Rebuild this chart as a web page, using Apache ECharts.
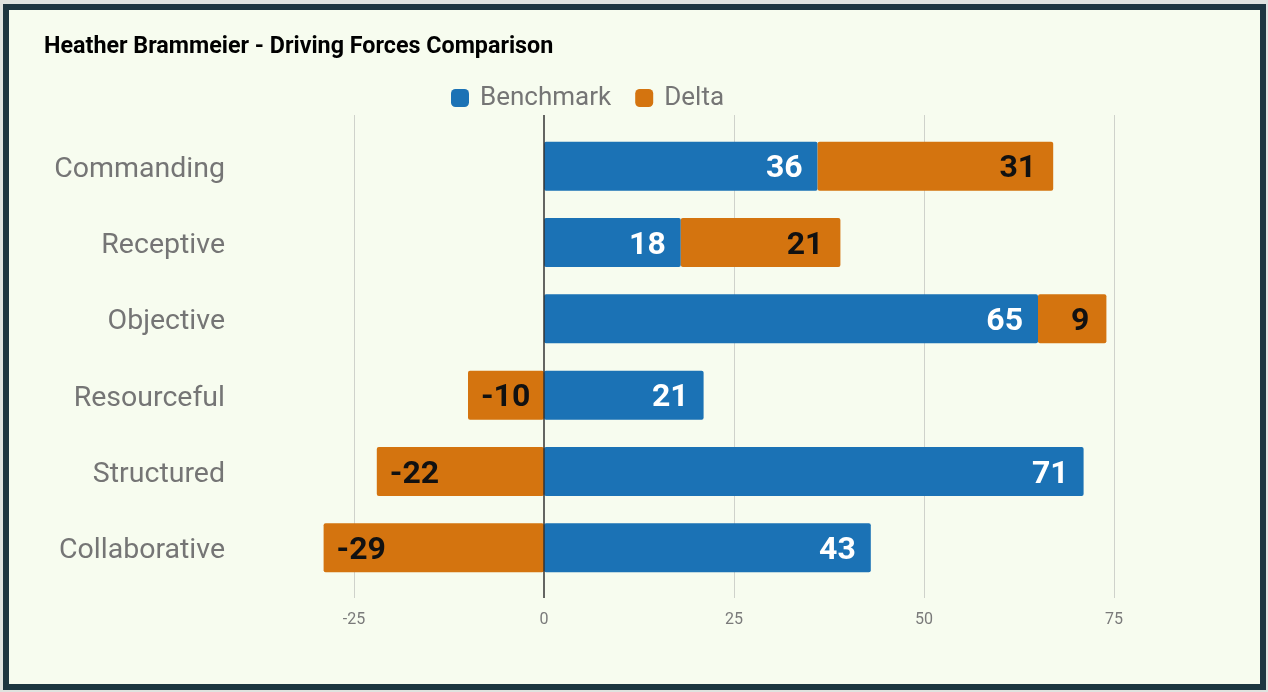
<!DOCTYPE html>
<html>
<head>
<meta charset="utf-8">
<script src="https://cdn.jsdelivr.net/npm/echarts@6/dist/echarts.min.js"></script>
<style>
  html, body { margin: 0; padding: 0; width: 1268px; height: 692px; background: #dfe3df; overflow: hidden; }
  #frame { position: absolute; left: 3px; top: 4px; width: 1251px; height: 674px; border: 6px solid #1d3640; background: #f7fcef; }
  #chart { position: absolute; left: 0; top: 0; width: 1268px; height: 692px; }
</style>
</head>
<body>
<div id="frame"></div>
<div id="chart"></div>
<script>
// Driving forces per category: benchmark score and the person's delta from it
const categories = ['Commanding', 'Receptive', 'Objective', 'Resourceful', 'Structured', 'Collaborative'];
const benchmark = [36, 18, 65, 21, 71, 43];
const delta = [31, 21, 9, -10, -22, -29];
const xTicks = [-25, 0, 25, 50, 75];

const BLUE = '#1b72b5';
const ORANGE = '#d4740f';
const FONT = 'Roboto, "Noto Sans", sans-serif';

// Pixel layout of the value scale: -25 sits at x=354, 75 at x=1114
const PX_LEFT = 354, PX_RIGHT = 1114;
const pxPerUnit = (PX_RIGHT - PX_LEFT) / (xTicks[xTicks.length - 1] - xTicks[0]);
// The bar grid reaches further left so bars below -25 are not clipped
const BAR_MIN = -30;
const barGridLeft = PX_LEFT - (xTicks[0] - BAR_MIN) * pxPerUnit;

const chart = echarts.init(document.getElementById('chart'), null, { renderer: 'canvas' });

const tickAxisBase = {
  type: 'value',
  min: xTicks[0],
  max: xTicks[xTicks.length - 1],
  interval: 25,
  axisLine: { show: false },
  axisTick: { show: false }
};

const option = {
  backgroundColor: 'transparent',
  animation: false,
  title: {
    text: 'Heather Brammeier - Driving Forces Comparison',
    left: 39,
    top: 31,
    textStyle: { fontFamily: FONT, fontWeight: 'bold', fontSize: 23.3, color: '#000' }
  },
  legend: {
    left: 446,
    top: 80,
    itemWidth: 18,
    itemHeight: 18,
    itemGap: 24,
    icon: 'roundRect',
    textStyle: { fontFamily: FONT, fontSize: 26, color: '#757575', padding: [0, 0, 0, 6] },
    data: ['Benchmark', 'Delta']
  },
  grid: [
    // bars
    { left: barGridLeft, right: 1268 - PX_RIGHT, top: 128, bottom: 106 },
    // background grid lines and tick labels
    { left: PX_LEFT, right: 1268 - PX_RIGHT, top: 115, bottom: 94, z: 0 },
    // zero line drawn above the bars
    { left: PX_LEFT, right: 1268 - PX_RIGHT, top: 115, bottom: 94, z: 5 }
  ],
  xAxis: [
    {
      type: 'value',
      gridIndex: 0,
      min: BAR_MIN,
      max: xTicks[xTicks.length - 1],
      axisLine: { show: false },
      axisTick: { show: false },
      axisLabel: { show: false },
      splitLine: { show: false }
    },
    Object.assign({}, tickAxisBase, {
      gridIndex: 1,
      z: 0,
      axisLabel: {
        show: true,
        margin: 14,
        fontFamily: FONT,
        fontSize: 16,
        color: '#7a7a7a'
      },
      splitLine: { show: true, lineStyle: { color: ['#cfd2cb', 'transparent', '#cfd2cb', '#cfd2cb', '#cfd2cb'], width: 1 } }
    }),
    Object.assign({}, tickAxisBase, {
      gridIndex: 2,
      z: 5,
      axisLabel: { show: false },
      splitLine: { show: true, lineStyle: { color: ['transparent', '#333333', 'transparent', 'transparent', 'transparent'], width: 1.5 } }
    })
  ],
  yAxis: [
    {
      type: 'category',
      gridIndex: 0,
      data: categories,
      inverse: true,
      axisLine: { show: false, onZero: false },
      axisTick: { show: false },
      axisLabel: {
        margin: barGridLeft - 225,
        fontFamily: FONT,
        fontSize: 28.5,
        color: '#757575',
        verticalAlign: 'top',
        lineHeight: 7
      }
    },
    { type: 'category', gridIndex: 1, data: [''], show: false },
    { type: 'category', gridIndex: 2, data: [''], show: false }
  ],
  series: [
    {
      name: 'Benchmark',
      type: 'bar',
      stack: 'total',
      xAxisIndex: 0,
      yAxisIndex: 0,
      barWidth: 49,
      data: benchmark,
      itemStyle: { color: BLUE, borderRadius: 2 },
      label: {
        show: true,
        position: 'insideRight',
        distance: 15,
        offset: [0, 3],
        fontFamily: FONT,
        fontWeight: 'bold',
        fontSize: 32,
        color: '#ffffff'
      }
    },
    {
      name: 'Delta',
      type: 'bar',
      stack: 'total',
      xAxisIndex: 0,
      yAxisIndex: 0,
      barWidth: 49,
      data: delta.map(v => ({
        value: v,
        label: { position: v < 0 ? 'insideLeft' : 'insideRight', distance: v < 0 ? 13 : 17 }
      })),
      itemStyle: { color: ORANGE, borderRadius: 2 },
      label: {
        show: true,
        offset: [0, 3],
        fontFamily: FONT,
        fontWeight: 'bold',
        fontSize: 32,
        color: '#111111'
      }
    }
  ]
};

chart.setOption(option);
</script>
</body>
</html>
